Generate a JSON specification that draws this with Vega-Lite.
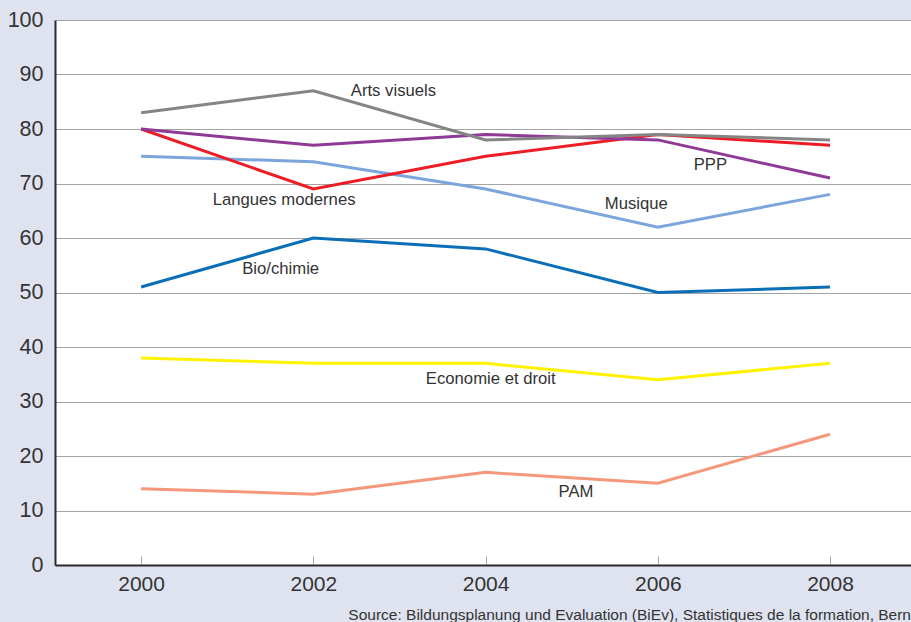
{
  "$schema": "https://vega.github.io/schema/vega-lite/v6.json",
  "autosize": {"type": "none"},
  "padding": {"left": 55, "top": 20, "right": 0, "bottom": 57},
  "width": 856,
  "height": 545,
  "background": "#dfe3ef",
  "title": {
    "text": "Source: Bildungsplanung und Evaluation (BiEv), Statistiques de la formation, Bern",
    "orient": "bottom",
    "anchor": "end",
    "offset": 14,
    "font": "Liberation Sans",
    "fontSize": 15.5,
    "fontWeight": "normal",
    "color": "#333333"
  },
  "config": {
    "view": {"fill": "white", "stroke": null},
    "font": "Liberation Sans"
  },
  "datasets": {
    "lines": [
      {"series": "PAM", "year": 2000, "value": 14},
      {"series": "PAM", "year": 2002, "value": 13},
      {"series": "PAM", "year": 2004, "value": 17},
      {"series": "PAM", "year": 2006, "value": 15},
      {"series": "PAM", "year": 2008, "value": 24},
      {"series": "Economie et droit", "year": 2000, "value": 38},
      {"series": "Economie et droit", "year": 2002, "value": 37},
      {"series": "Economie et droit", "year": 2004, "value": 37},
      {"series": "Economie et droit", "year": 2006, "value": 34},
      {"series": "Economie et droit", "year": 2008, "value": 37},
      {"series": "Bio/chimie", "year": 2000, "value": 51},
      {"series": "Bio/chimie", "year": 2002, "value": 60},
      {"series": "Bio/chimie", "year": 2004, "value": 58},
      {"series": "Bio/chimie", "year": 2006, "value": 50},
      {"series": "Bio/chimie", "year": 2008, "value": 51},
      {"series": "Musique", "year": 2000, "value": 75},
      {"series": "Musique", "year": 2002, "value": 74},
      {"series": "Musique", "year": 2004, "value": 69},
      {"series": "Musique", "year": 2006, "value": 62},
      {"series": "Musique", "year": 2008, "value": 68},
      {"series": "Langues modernes", "year": 2000, "value": 80},
      {"series": "Langues modernes", "year": 2002, "value": 69},
      {"series": "Langues modernes", "year": 2004, "value": 75},
      {"series": "Langues modernes", "year": 2006, "value": 79},
      {"series": "Langues modernes", "year": 2008, "value": 77},
      {"series": "PPP", "year": 2000, "value": 80},
      {"series": "PPP", "year": 2002, "value": 77},
      {"series": "PPP", "year": 2004, "value": 79},
      {"series": "PPP", "year": 2006, "value": 78},
      {"series": "PPP", "year": 2008, "value": 71},
      {"series": "Arts visuels", "year": 2000, "value": 83},
      {"series": "Arts visuels", "year": 2002, "value": 87},
      {"series": "Arts visuels", "year": 2004, "value": 78},
      {"series": "Arts visuels", "year": 2006, "value": 79},
      {"series": "Arts visuels", "year": 2008, "value": 78}
    ],
    "labels": [
      {"label": "Arts visuels", "year": 2002.93, "value": 87.0},
      {"label": "Langues modernes", "year": 2001.66, "value": 67.0},
      {"label": "PPP", "year": 2006.61, "value": 73.4},
      {"label": "Musique", "year": 2005.75, "value": 66.2},
      {"label": "Bio/chimie", "year": 2001.62, "value": 54.3},
      {"label": "Economie et droit", "year": 2004.06, "value": 34.1},
      {"label": "PAM", "year": 2005.05, "value": 13.4}
    ]
  },
  "layer": [
    {
      "data": {"name": "lines"},
      "mark": {"type": "line", "strokeWidth": 3, "clip": true},
      "encoding": {
        "x": {
          "field": "year",
          "type": "quantitative",
          "scale": {"domain": [1999, 2008.94], "nice": false, "zero": false},
          "axis": {
            "values": [2000, 2002, 2004, 2006, 2008],
            "format": "d",
            "title": null,
            "grid": false,
            "domainColor": "#2b2b2b",
            "domainWidth": 2,
            "ticks": true,
            "tickSize": -9,
            "tickColor": "#aaaaaa",
            "tickWidth": 1,
            "labelFontSize": 21,
            "labelColor": "#333333",
            "labelPadding": 17,
            "labelFont": "Liberation Sans"
          }
        },
        "y": {
          "field": "value",
          "type": "quantitative",
          "scale": {"domain": [0, 100], "nice": false},
          "axis": {
            "values": [0, 10, 20, 30, 40, 50, 60, 70, 80, 90, 100],
            "title": null,
            "grid": true,
            "gridColor": "#a3a3a3",
            "gridWidth": 1,
            "ticks": false,
            "domainColor": "#2b2b2b",
            "domainWidth": 2,
            "labelFontSize": 21.5,
            "labelColor": "#333333",
            "labelPadding": 12,
            "labelFont": "Liberation Sans"
          }
        },
        "color": {
          "field": "series",
          "type": "nominal",
          "scale": {
            "domain": ["PAM", "Economie et droit", "Bio/chimie", "Musique", "Langues modernes", "PPP", "Arts visuels"],
            "range": ["#f4977a", "#fff200", "#0b6fb8", "#7ba5dc", "#ee1c25", "#8e3a96", "#858585"]
          },
          "legend": null
        },
        "order": {"field": "year", "type": "quantitative"}
      }
    },
    {
      "data": {"name": "labels"},
      "mark": {"type": "text", "fontSize": 16.7, "color": "#333333", "font": "Liberation Sans", "align": "center", "baseline": "middle"},
      "encoding": {
        "x": {"field": "year", "type": "quantitative"},
        "y": {"field": "value", "type": "quantitative"},
        "text": {"field": "label"}
      }
    }
  ]
}
